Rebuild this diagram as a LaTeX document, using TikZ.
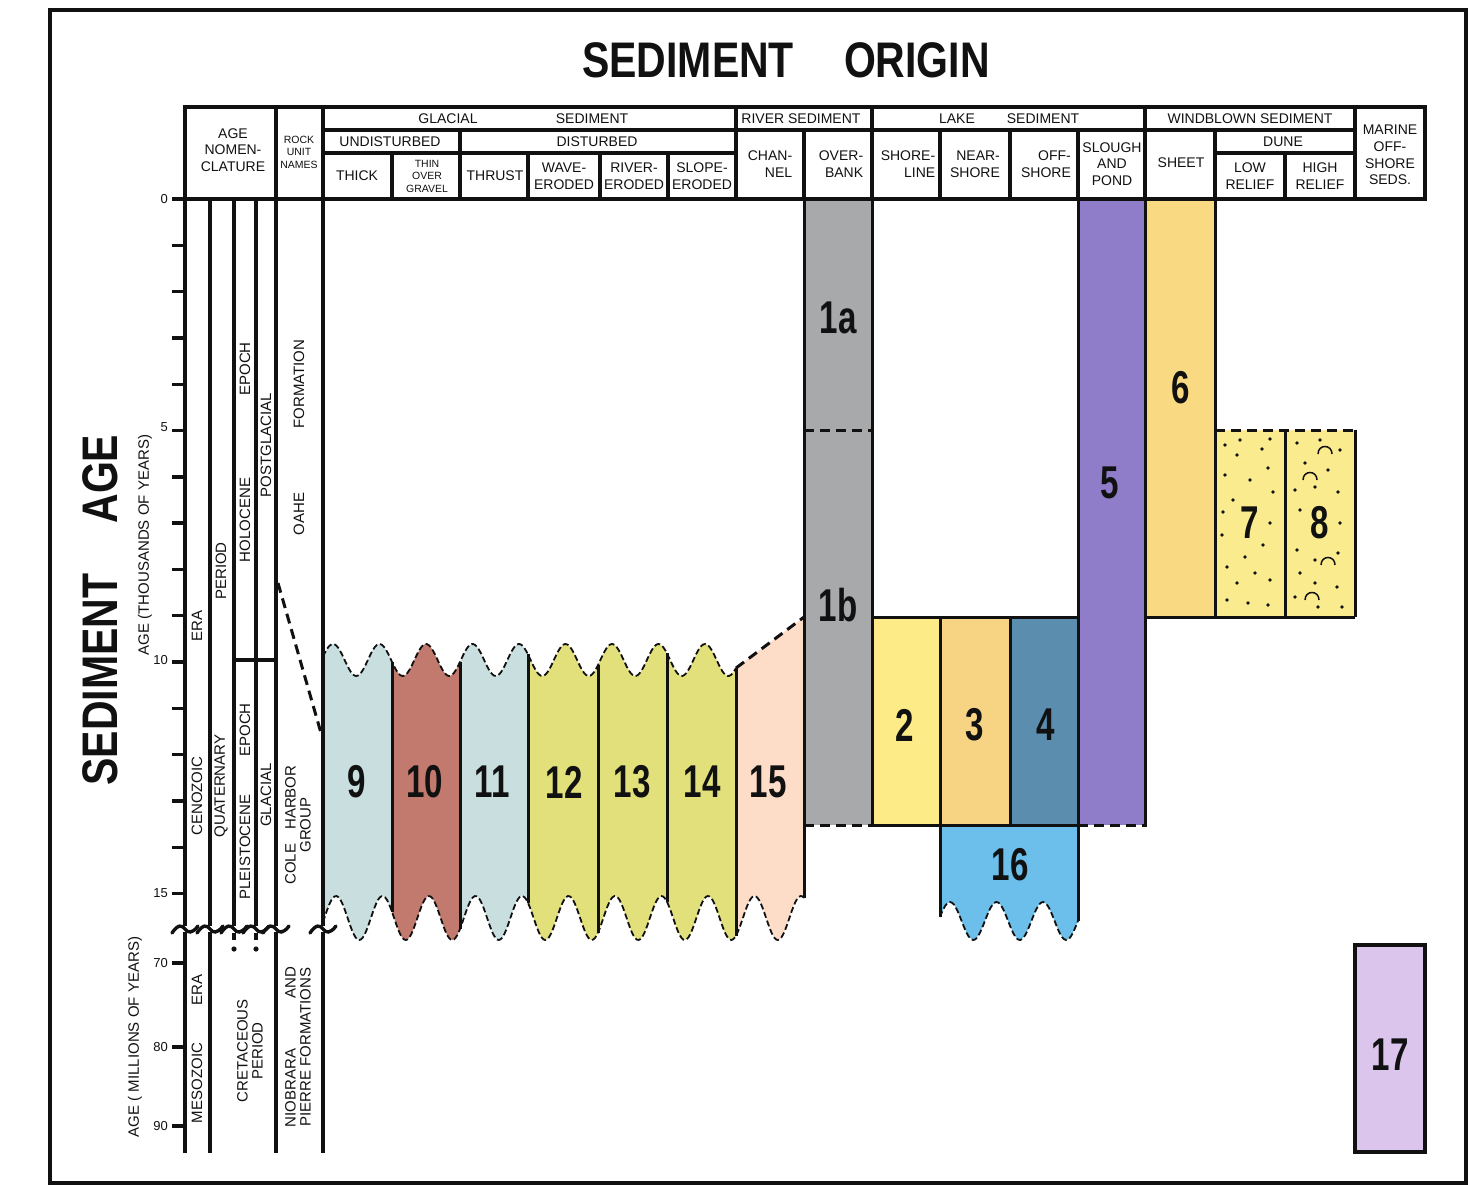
\documentclass[tikz,border=0pt]{standalone}
\usepackage{fontspec}
\setmainfont{Liberation Sans}
\newfontfamily\titlefont{Liberation Sans}[FakeStretch=0.82]
\newfontfamily\numfont{Liberation Sans}[FakeStretch=0.72]
\usetikzlibrary{calc}
\definecolor{sedInk}{HTML}{111111}
\definecolor{sedGlacBlue}{HTML}{C8DEDF}
\definecolor{sedGlacRed}{HTML}{C27A6E}
\definecolor{sedGlacLime}{HTML}{E2E07A}
\definecolor{sedPeach}{HTML}{FDDCC8}
\definecolor{sedGrey}{HTML}{A8A9AB}
\definecolor{sedShore}{HTML}{FCEB86}
\definecolor{sedNear}{HTML}{F7D384}
\definecolor{sedOff}{HTML}{5B8EAE}
\definecolor{sedSlough}{HTML}{8F7DC9}
\definecolor{sedSheet}{HTML}{F9DA82}
\definecolor{sedDune}{HTML}{FAEB8F}
\definecolor{sedLakeOld}{HTML}{6CBFEA}
\definecolor{sedMarine}{HTML}{DCC5EC}
\tikzset{
  sed/frame/.style={draw=sedInk, line width=3.6pt},
  sed/rule/.style={draw=sedInk, line width=3.4pt},
  sed/edge/.style={draw=sedInk, line width=3pt},
  sed/dash/.style={draw=sedInk, line width=3pt, dash pattern=on 10pt off 6pt},
  sed/wave/.style={draw=sedInk, line width=1.8pt, dash pattern=on 6pt off 3pt},
  sed/head/.style={font=\fontsize{14}{16.8}\selectfont, align=center,
    inner sep=0pt, text=sedInk},
  sed/headsmall/.style={sed/head, font=\fontsize{10.5}{12.5}\selectfont},
  sed/vert/.style={sed/head, rotate=90, font=\fontsize{15}{15}\selectfont},
  sed/axis/.style={font=\fontsize{15}{17}\selectfont, rotate=90,
    inner sep=0pt, text=sedInk},
  sed/tick/.style={font=\fontsize{13}{14}\selectfont, inner sep=0pt,
    anchor=east, text=sedInk},
  sed/num/.style={font=\numfont\bfseries\fontsize{46}{46}\selectfont,
    inner sep=0pt, text=sedInk},
  sed/title/.style={font=\titlefont\bfseries\fontsize{50}{50}\selectfont,
    inner sep=0pt, text=sedInk},
}

\begin{document}
\begin{tikzpicture}[x=1pt, y=-1pt]
\useasboundingbox (0,0) rectangle (1468,1185);
\fill[white] (0,0) rectangle (1468,1185);

% coloured sediment units
\foreach \xa/\xb/\fillc in {323/392/sedGlacBlue, 392/460/sedGlacRed,
    460/528/sedGlacBlue, 528/598/sedGlacLime, 598/667/sedGlacLime,
    667/736/sedGlacLime}
  \fill[\fillc] plot[domain=\xa:\xb, samples=30] (\x,{660-16*cos((\x-333)/46.5*360)})
    -- plot[domain=\xb:\xa, samples=30] (\x,{918-22*cos((\x-336)/46.5*360)}) -- cycle;
\fill[sedPeach] (736,668) -- (804,617)
  -- plot[domain=804:736, samples=30] (\x,{918-22*cos((\x-336)/46.5*360)}) -- cycle;
\fill[sedGrey] (804,199) rectangle (872,825);
\fill[sedShore] (872,617) rectangle (940,825);
\fill[sedNear] (940,617) rectangle (1010,825);
\fill[sedOff] (1010,617) rectangle (1078,825);
\fill[sedSlough] (1078,199) rectangle (1145,825);
\fill[sedSheet] (1145,199) rectangle (1215,617);
\fill[sedDune] (1215,430) rectangle (1355,617);
\fill[sedLakeOld] (940,825) -- (1078,825)
  -- plot[domain=1078:940, samples=40] (\x,{921-19*cos((\x-950)/46.5*360)}) -- cycle;
\fill[sedMarine] (1355,945) rectangle (1425,1152);

% frame and header grid
\draw[sed/frame] (50,10) rectangle (1466,1183);
\draw[sed/rule] (185,107) rectangle (1425,199);
\draw[sed/rule] (172,199) -- (185,199);
\foreach \hx/\hy in {276/107, 323/107, 736/107, 872/107, 1145/107, 1355/107,
    460/130, 804/130, 940/130, 1010/130, 1078/130, 1215/130,
    392/153, 528/153, 600/153, 668/153, 1285/153}
  \draw[sed/rule] (\hx,\hy) -- (\hx,199);
\draw[sed/rule] (323,130) -- (1355,130);
\draw[sed/rule] (323,153) -- (736,153);
\draw[sed/rule] (1215,153) -- (1355,153);

% age columns with the break
\foreach \bx in {185,210,234,256,276,323}
  \draw[sed/rule] (\bx,199) -- (\bx,926);
\foreach \bx in {185,210,276,323}
  \draw[sed/rule] (\bx,932) -- (\bx,1153);
\foreach \bx in {185,210,234,256,276,323}
  \draw[sed/rule, line cap=round] (\bx-13,933) .. controls (\bx-7,924) and (\bx-3,925) .. (\bx,929)
    .. controls (\bx+3,933) and (\bx+7,934) .. (\bx+13,926);
\foreach \bx in {234,256} {
  \draw[sed/rule] (\bx,933) -- (\bx,940);
  \fill[sedInk] (\bx,949) circle (2.6pt);
}
\foreach \k in {0,...,15}
  \draw[sed/rule] (172,{199+46.3*\k}) -- (185,{199+46.3*\k});
\foreach \my in {963,1047,1126}
  \draw[sed/rule] (172,\my) -- (185,\my);
\draw[sed/rule] (234,660) -- (276,660);
\draw[sed/dash] (278,583) -- (321,733);

% glacial units
\foreach \sx in {392,460,528,598,667,736} {
  \pgfmathsetmacro{\ytop}{660-16*cos((\sx-333)/46.5*360)}
  \pgfmathsetmacro{\ybot}{918-22*cos((\sx-336)/46.5*360)}
  \draw[sed/edge] (\sx,\ytop) -- (\sx,\ybot);
}
\draw[sed/wave] plot[domain=323:736, samples=240] (\x,{660-16*cos((\x-333)/46.5*360)});
\draw[sed/wave] plot[domain=323:804, samples=280] (\x,{918-22*cos((\x-336)/46.5*360)});
\draw[sed/dash] (736,668) -- (804,617);

% river, lake, windblown and marine units
\pgfmathsetmacro{\yend}{918-22*cos((804-336)/46.5*360)}
\draw[sed/edge] (804,199) -- (804,\yend);
\draw[sed/edge] (872,199) -- (872,825);
\draw[sed/dash] (804,430) -- (872,430);
\draw[sed/dash] (804,825) -- (872,825);
\draw[sed/edge] (872,617) -- (1078,617);
\draw[sed/edge] (872,825) -- (1078,825);
\draw[sed/edge] (940,617) -- (940,917);
\draw[sed/edge] (1010,617) -- (1010,825);
\draw[sed/edge] (1078,199) -- (1078,921);
\draw[sed/dash] (1078,825) -- (1145,825);
\draw[sed/edge] (1145,199) -- (1145,827);
\draw[sed/wave] plot[domain=940:1078, samples=80] (\x,{921-19*cos((\x-950)/46.5*360)});
\draw[sed/edge] (1215,199) -- (1215,617);
\draw[sed/edge] (1145,617) -- (1355,617);
\draw[sed/edge] (1285,430) -- (1285,617);
\draw[sed/edge] (1355,430) -- (1355,617);
\draw[sed/dash] (1215,430) -- (1355,430);
\draw[sed/rule] (1355,945) rectangle (1425,1152);

% dune sand texture
\foreach \dx/\dy in {1225/445, 1240/440, 1270/439, 1237/455, 1262/449, 1225/475,
    1250/480, 1268/468, 1273/492, 1233/500, 1223/512, 1270/523, 1222/535,
    1263/545, 1245/557, 1227/567, 1255/573, 1270/580, 1237/583, 1227/600,
    1248/603, 1268/605, 1297/443, 1320/440, 1340/450, 1305/463, 1328/470,
    1315/487, 1295/490, 1338/492, 1300/510, 1340/523, 1297/550, 1338/553,
    1315/560, 1300/573, 1315/583, 1337/587, 1295/597, 1318/607, 1342/607}
  \fill[sedInk] (\dx,\dy) circle (1.9pt);
\foreach \ax/\ay in {1325/452, 1310/478, 1328/563, 1312/598}
  \draw[sedInk, line width=1.5pt] (\ax-7,\ay+2) .. controls (\ax-7,\ay-8) and (\ax+7,\ay-8) .. (\ax+7,\ay+2);

% titles
\node[sed/title] (tOrigin) at (786,60) {SEDIMENT\hspace{50pt}ORIGIN};
\node[sed/title, rotate=90] (tAge) at (100,610) {SEDIMENT\hspace{50pt}AGE};
\node[sed/axis] (axKyr) at (145,545) {AGE (THOUSANDS OF YEARS)};
\node[sed/axis] (axMyr) at (135,1037) {AGE ( MILLIONS OF YEARS)};
\foreach \ty/\tl in {199/0, 427/5, 660/10, 893/15, 963/70, 1047/80, 1126/90}
  \node[sed/tick] (tick\tl) at (168,\ty) {\tl};

% header texts
\node[sed/head] (hAge) at (233,150) {AGE\\NOMEN-\\CLATURE};
\node[sed/headsmall] (hRock) at (299,152) {ROCK\\UNIT\\NAMES};
\node[sed/head] (hGlac) at (448,119) {GLACIAL};
\node[sed/head] (hGlacSed) at (592,119) {SEDIMENT};
\node[sed/head] (hRiver) at (801,119) {RIVER SEDIMENT};
\node[sed/head] (hLake) at (957,119) {LAKE};
\node[sed/head] (hLakeSed) at (1043,119) {SEDIMENT};
\node[sed/head] (hWind) at (1250,119) {WINDBLOWN SEDIMENT};
\node[sed/head] (hUndist) at (390,142) {UNDISTURBED};
\node[sed/head] (hDist) at (597,142) {DISTURBED};
\node[sed/head] (hDune) at (1283,142) {DUNE};
\node[sed/head] (hThick) at (357,176) {THICK};
\node[sed/headsmall] (hThin) at (427,176) {THIN\\OVER\\GRAVEL};
\node[sed/head] (hThrust) at (495,176) {THRUST};
\node[sed/head] (hWave) at (564,176) {WAVE-\\ERODED};
\node[sed/head] (hRivEr) at (634,176) {RIVER-\\ERODED};
\node[sed/head] (hSlope) at (702,176) {SLOPE-\\ERODED};
\node[sed/head, align=right] (hChan) at (770,164) {CHAN-\\NEL};
\node[sed/head, align=right] (hOver) at (841,164) {OVER-\\BANK};
\node[sed/head, align=right] (hShore) at (908,164) {SHORE-\\LINE};
\node[sed/head, align=right] (hNear) at (975,164) {NEAR-\\SHORE};
\node[sed/head, align=right] (hOff) at (1046,164) {OFF-\\SHORE};
\node[sed/head] (hSlough) at (1112,164) {SLOUGH\\AND\\POND};
\node[sed/head] (hSheet) at (1181,163) {SHEET};
\node[sed/head] (hLow) at (1250,176) {LOW\\RELIEF};
\node[sed/head] (hHigh) at (1320,176) {HIGH\\RELIEF};
\node[sed/head] (hMarine) at (1390,155) {MARINE\\OFF-\\SHORE\\SEDS.};

% age nomenclature and rock units
\node[sed/vert] (vEra) at (197,626) {ERA};
\node[sed/vert] (vCeno) at (197,796) {CENOZOIC};
\node[sed/vert] (vPeriod) at (221,571) {PERIOD};
\node[sed/vert] (vQuat) at (221,786) {QUATERNARY};
\node[sed/vert] (vEpochH) at (245,369) {EPOCH};
\node[sed/vert] (vHolo) at (245,520) {HOLOCENE};
\node[sed/vert] (vPost) at (266,445) {POSTGLACIAL};
\node[sed/vert] (vEpochP) at (245,730) {EPOCH};
\node[sed/vert] (vPleis) at (245,847) {PLEISTOCENE};
\node[sed/vert] (vGlac) at (266,795) {GLACIAL};
\node[sed/vert] (vForm) at (299,384) {FORMATION};
\node[sed/vert] (vOahe) at (299,514) {OAHE};
\node[sed/vert] (vCole) at (298,825) {COLE\hspace{14pt}HARBOR\\GROUP};
\node[sed/vert] (vEraM) at (197,990) {ERA};
\node[sed/vert] (vMeso) at (197,1083) {MESOZOIC};
\node[sed/vert] (vCret) at (250,1051) {CRETACEOUS\\PERIOD};
\node[sed/vert] (vNiob) at (298,1047) {NIOBRARA\hspace{50pt}AND\\PIERRE FORMATIONS};

% unit numbers
\foreach \nx/\ny/\txt in {357/782/9, 425/782/10, 492/782/11, 564/782/12,
    632/782/13, 702/782/14, 768/782/15, 838/318/1a, 838/605/1b, 905/725/2,
    975/725/3, 1046/725/4, 1110/483/5, 1181/388/6, 1250/523/7, 1320/523/8,
    1010/865/16, 1390/1055/17}
  \node[sed/num] (blk\txt) at (\nx,\ny) {\txt};
\end{tikzpicture}
\end{document}
